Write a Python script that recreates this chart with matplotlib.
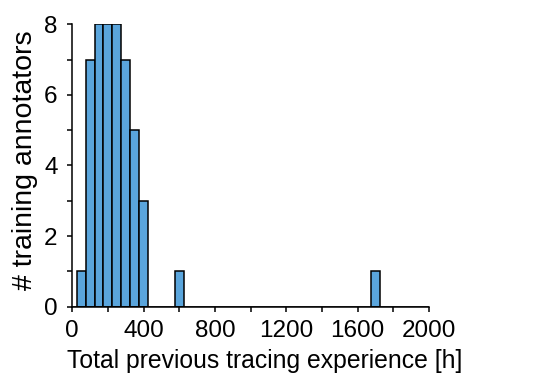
import numpy as np
import matplotlib.pyplot as plt
from matplotlib.ticker import MultipleLocator

plt.rcParams['font.family'] = ['Liberation Sans', 'DejaVu Sans']

# histogram of previous tracing experience, 50 h bins
bin_left = [25, 75, 125, 175, 225, 275, 325, 375, 575, 1675]
counts = [1, 7, 8, 8, 8, 7, 5, 3, 1, 1]
bin_width = 50

fig = plt.figure(figsize=(5.33, 3.74), dpi=100)
ax = fig.add_axes([0.1356, 0.18, 0.805 - 0.1356, 0.935 - 0.18])

ax.bar(bin_left, counts, width=bin_width, align='edge',
       color='#5aa5dc', edgecolor='black', linewidth=1.1)
ax.plot([0, 2000], [0, 0], color='black', linewidth=1.1, zorder=1)

ax.set_xlim(0, 2000)
ax.set_ylim(0, 8)
ax.xaxis.set_major_locator(MultipleLocator(400))
ax.xaxis.set_minor_locator(MultipleLocator(200))
ax.yaxis.set_major_locator(MultipleLocator(2))
ax.yaxis.set_minor_locator(MultipleLocator(1))
ax.tick_params(which='both', direction='out', length=3.6, width=1.1, labelsize=17.5)
ax.tick_params(axis='x', which='both', pad=6)
ax.tick_params(axis='y', which='both', pad=7)
ax.spines['top'].set_visible(False)
ax.spines['right'].set_visible(False)
for s in ('left', 'bottom'):
    ax.spines[s].set_linewidth(1.1)

ax.set_xlabel('Total previous tracing experience [h]', fontsize=17.8)
ax.set_ylabel('# training annotators', fontsize=20.5)
ax.xaxis.set_label_coords(0.54, -0.15)
ax.yaxis.set_label_coords(-0.097, 0.52)

fig.savefig('out.png', dpi=100, facecolor='white')
plt.close()
